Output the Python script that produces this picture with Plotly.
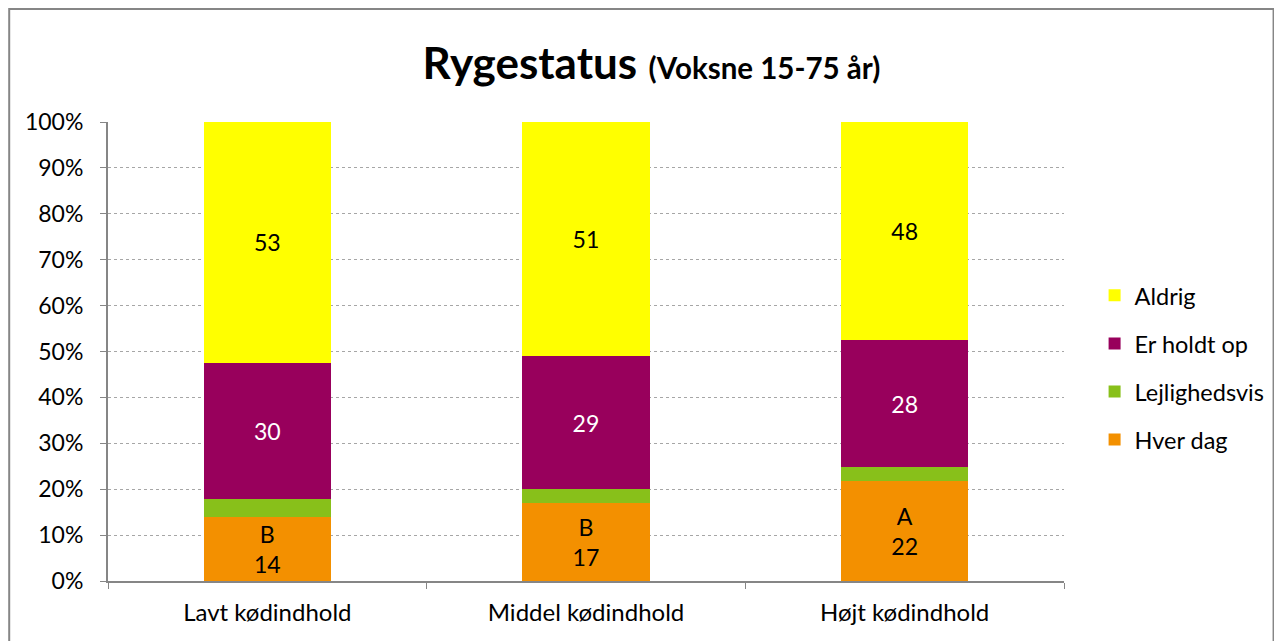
import plotly.graph_objects as go

categories = ["Lavt kødindhold", "Middel kødindhold", "Højt kødindhold"]
hver_dag = [14, 17, 22]
lejlighedsvis = [4, 3, 3]
holdt_op = [30, 29, 28]
aldrig = [53, 51, 48]
hver_dag_letters = ["B", "B", "A"]

FONT = "Lato"
TXT = 23.5

fig = go.Figure()
fig.add_trace(go.Bar(
    name="Hver dag", x=categories, y=hver_dag,
    text=[f"{l}<br>{v}" for l, v in zip(hver_dag_letters, hver_dag)],
    textposition="inside", insidetextanchor="middle", textangle=0,
    textfont=dict(color="black", size=TXT, family=FONT),
    marker=dict(color="#F39000", line=dict(width=0)),
    legendgroup="a", legendrank=4))
fig.add_trace(go.Bar(
    name="Lejlighedsvis", x=categories, y=lejlighedsvis,
    marker=dict(color="#88C01A", line=dict(width=0)),
    legendgroup="b", legendrank=3))
fig.add_trace(go.Bar(
    name="Er holdt op", x=categories, y=holdt_op,
    text=[str(v) for v in holdt_op],
    textposition="inside", insidetextanchor="middle", textangle=0,
    textfont=dict(color="white", size=TXT, family=FONT),
    marker=dict(color="#98005C", line=dict(width=0)),
    legendgroup="c", legendrank=2))
fig.add_trace(go.Bar(
    name="Aldrig", x=categories, y=aldrig,
    text=[str(v) for v in aldrig],
    textposition="inside", insidetextanchor="middle", textangle=0,
    textfont=dict(color="black", size=TXT, family=FONT),
    marker=dict(color="#FFFF00", line=dict(width=0)),
    legendgroup="d", legendrank=1))

fig.update_layout(
    width=1274, height=633,
    barmode="stack", barnorm="percent", bargap=0.6,
    margin=dict(l=100, r=216, t=114, b=60),
    paper_bgcolor="white", plot_bgcolor="white",
    font=dict(family=FONT, size=23, color="black"),
    title=dict(
        text="<b>Rygestatus</b> <b><span style='font-size:29.5px'>(Voksne 15-75 år)</span></b>",
        x=0.505, xanchor="center", y=0.912, yanchor="middle",
        font=dict(size=44, family=FONT, color="black")),
    showlegend=True,
    legend=dict(x=1.032, xanchor="left", y=0.465, yanchor="middle",
                traceorder="grouped", tracegroupgap=14.5,
                font=dict(size=23.5, family=FONT), itemwidth=30,
                bgcolor="rgba(0,0,0,0)"),
    uniformtext=dict(minsize=8, mode="show"),
)
fig.update_xaxes(
    showline=True, linecolor="#868686", linewidth=2,
    ticks="outside", tickson="boundaries", ticklen=6, tickcolor="#868686",
    tickfont=dict(size=24, family=FONT), showgrid=False,
    ticklabelstandoff=9)
fig.update_yaxes(
    range=[0, 100], dtick=10, ticksuffix="%",
    showline=True, linecolor="#868686", linewidth=2,
    ticks="outside", ticklen=6, tickcolor="#868686",
    tickfont=dict(size=23, family=FONT),
    showgrid=True, gridcolor="#A6A6A6", griddash="dot", gridwidth=1,
    zeroline=False, ticklabelstandoff=12)

# outer chart frame
fig.add_shape(type="rect", xref="paper", yref="paper",
              x0=(9 - 108) / 958, x1=(1276 - 108) / 958,
              y0=(581 - 660) / 459, y1=(581 - 9) / 459,
              line=dict(color="#868686", width=2), layer="below")

fig.write_html("out.html")
